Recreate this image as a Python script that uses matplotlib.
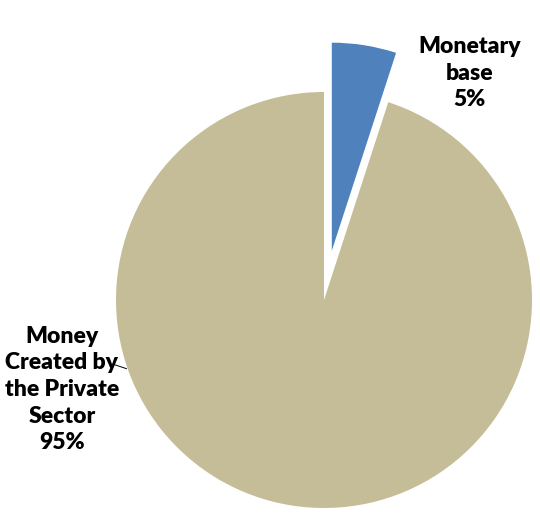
import matplotlib
matplotlib.use("Agg")
import matplotlib.pyplot as plt

categories = ["Monetary\nbase", "Money\nCreated by\nthe Private\nSector"]
values = [5, 95]
colors = ["#4F81BD", "#C4BD97"]
explode = [0.24, 0.0]

fig = plt.figure(figsize=(5.4, 5.23), dpi=100)
W, H = 540, 523
cx, cy, r = 324, 300, 208
ax = fig.add_axes([(cx - r) / W, (H - cy - r) / H, 2 * r / W, 2 * r / H])
wedges, _ = ax.pie(values, colors=colors, explode=explode, startangle=90,
                   counterclock=False, radius=1.0,
                   wedgeprops=dict(linewidth=0))
for w in wedges:
    w.set_clip_on(False)
ax.set_xlim(-1, 1)
ax.set_ylim(-1, 1)
ax.set_aspect("equal")
ax.axis("off")

font = dict(family=["Lato", "DejaVu Sans"], fontweight="heavy", fontsize=16.5,
            color="#000000", ha="center", va="center", linespacing=1.33)
ax.text(0.70, 1.09, f"{categories[0]}\n{values[0]}%", clip_on=False, **font)
ax.text(-1.26, -0.43, f"{categories[1]}\n{values[1]}%", clip_on=False, **font)
ax.plot([-1.01, -0.95], [-0.31, -0.33], color="black", lw=0.7, clip_on=False)

fig.savefig("out.png", dpi=100)
